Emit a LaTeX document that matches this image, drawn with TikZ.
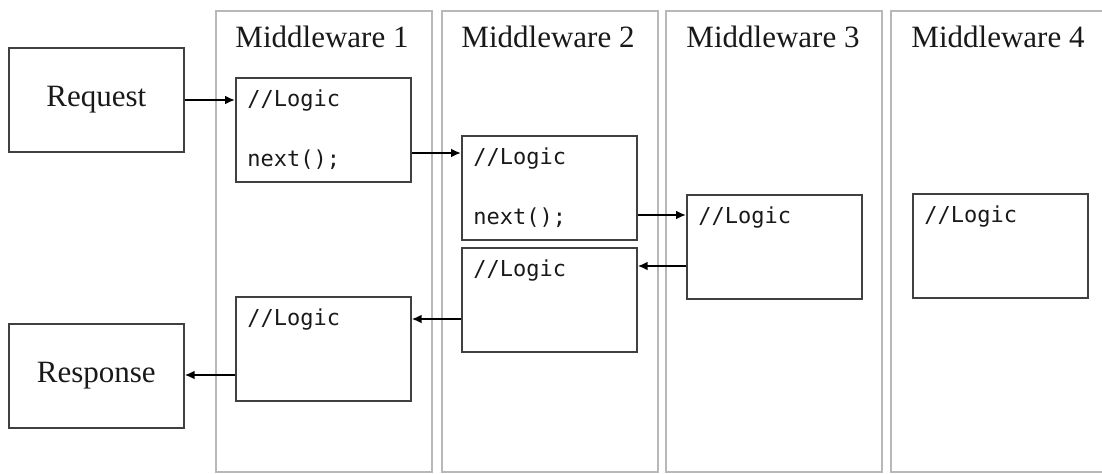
\documentclass[tikz,border=0pt]{standalone}
\usepackage{fontspec}
\setmainfont{Liberation Serif}
\newfontfamily\codefont{DejaVu Sans Mono}
\usetikzlibrary{arrows.meta}

\begin{document}
\begin{tikzpicture}[x=0.5pt,y=-0.5pt,
  lane/.style={draw=black!28,line width=1pt,rectangle,anchor=north west,inner sep=0pt,
               minimum width=108pt,minimum height=230.5pt},
  lanetitle/.style={anchor=base,font=\fontsize{15.5}{18}\selectfont,inner sep=0pt,text=black!90},
  box/.style={draw=black!75,line width=0.85pt,rectangle,anchor=north west,inner sep=0pt,
              minimum width=87.5pt,minimum height=52pt},
  endpoint/.style={box},
  code/.style={anchor=base west,inner sep=0pt,font=\codefont\fontsize{11}{13}\selectfont,text=black!90},
  flow/.style={line width=1.1pt,-{Latex[length=5pt,width=4.5pt]}}]

\useasboundingbox (0,0) rectangle (1102,473);

% swim lanes, one per middleware
\node[lane] (col1) at (215,10) {};
\node[lane] (col2) at (441,10) {};
\node[lane] (col3) at (665,10) {};
\node[lane] (col4) at (890,10) {};
\node[lanetitle] (t1) at (322,47) {Middleware 1};
\node[lanetitle] (t2) at (548,47) {Middleware 2};
\node[lanetitle] (t3) at (773,47) {Middleware 3};
\node[lanetitle] (t4) at (998,47) {Middleware 4};

% request and response
\node[endpoint] (req) at (8,47) {};
\node[lanetitle,anchor=center] (reqt) at (req.center) {Request};
\node[endpoint] (res) at (8,323) {};
\node[lanetitle,anchor=center] (rest) at (res.center) {Response};

% middleware bodies
\node[box] (m1a) at (235,77) {};
\node[box] (m1b) at (235,296) {};
\node[box] (m2a) at (461,135) {};
\node[box] (m2b) at (461,247) {};
\node[box] (m3)  at (686,194) {};
\node[box] (m4)  at (912,193) {};

\node[code] (m1a1) at ([xshift=6pt,yshift=-14.5pt]m1a.north west) {//Logic};
\node[code] (m1a2) at ([xshift=6pt,yshift=-44.5pt]m1a.north west) {next();};
\node[code] (m1b1) at ([xshift=6pt,yshift=-14.5pt]m1b.north west) {//Logic};
\node[code] (m2a1) at ([xshift=6pt,yshift=-14.5pt]m2a.north west) {//Logic};
\node[code] (m2a2) at ([xshift=6pt,yshift=-44.5pt]m2a.north west) {next();};
\node[code] (m2b1) at ([xshift=6pt,yshift=-14.5pt]m2b.north west) {//Logic};
\node[code] (m31)  at ([xshift=6pt,yshift=-14.5pt]m3.north west) {//Logic};
\node[code] (m41)  at ([xshift=6pt,yshift=-14.5pt]m4.north west) {//Logic};

% call chain down and back
\draw[flow] (req.east |- 0,100) -- (m1a.west |- 0,100);
\draw[flow] (m1a.east |- 0,153) -- (m2a.west |- 0,153);
\draw[flow] (m2a.east |- 0,215) -- (m3.west |- 0,215);
\draw[flow] (m3.west |- 0,266) -- (m2b.east |- 0,266);
\draw[flow] (m2b.west |- 0,319) -- (m1b.east |- 0,319);
\draw[flow] (m1b.west |- 0,375) -- (res.east |- 0,375);
\end{tikzpicture}
\end{document}
